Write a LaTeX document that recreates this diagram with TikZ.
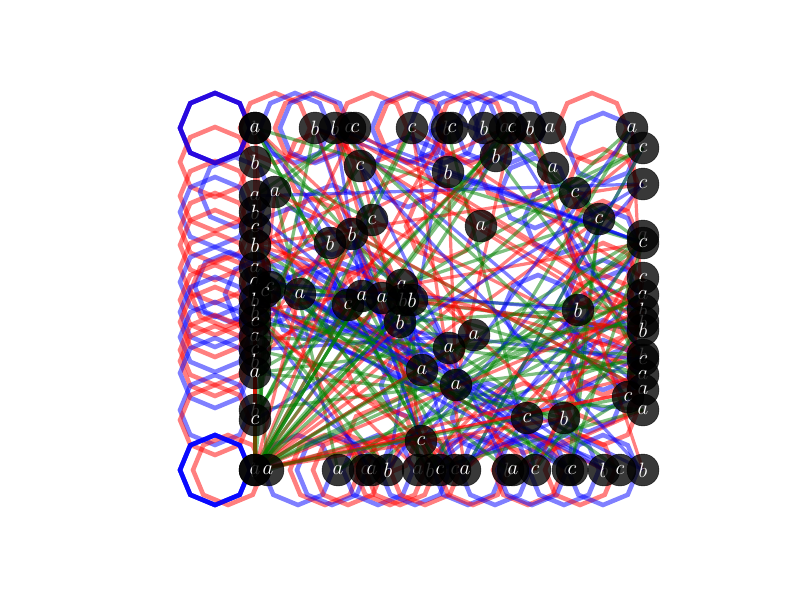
\documentclass[tikz,border=0pt]{standalone}
\usetikzlibrary{calc}
\begin{document}
\begin{tikzpicture}[x=1pt,y=-1pt,
  oct/.style={line width=4.5pt,opacity=0.5,line join=miter},
  edge/.style={line width=3.2pt,opacity=0.5},
  vtx/.style={circle,fill=black,draw=black,fill opacity=0.78,draw opacity=0.78,text opacity=1,text=white,minimum size=32pt,inner sep=0pt,font=\fontsize{21}{21}\selectfont}]
\useasboundingbox[fill=white] (0,0) rectangle (800,600);
\def\nodelist{1/255/128/b/blue,2/255/128/a/blue,3/315/128/b/red,4/335/128/b/blue,5/350/128/a/red,6/355/128/c/blue,7/412/128/c/red,8/447/128/b/blue,9/452/128/c/red,10/484/128/b/blue,11/505/128/a/blue,12/512/128/c/red,13/530/128/b/blue,14/550/128/a/blue,15/632/128/a/red,16/643/148/c/blue,17/255/162/b/red,18/360/166/c/red,19/448/172/b/blue,20/496/156/b/blue,21/553/168/a/red,22/575/193/c/blue,23/643/184/c/red,24/275/192/a/blue,25/255/196/a/red,26/255/212/b/blue,27/255/228/c/red,28/255/245/b/red,29/372/220/c/blue,30/352/234/b/red,31/330/243/b/blue,32/481/226/a/red,33/599/219/c/blue,34/643/236/a/red,35/643/243/c/blue,36/255/268/a/red,37/255/282/a/blue,38/270/287/c/blue,39/265/292/c/red,40/300/294/a/blue,41/255/300/b/red,42/255/312/b/blue,43/255/322/c/red,44/255/337/a/blue,45/255/350/c/red,46/255/361/b/red,47/255/373/a/blue,48/348/305/c/blue,49/362/296/a/red,50/382/298/a/blue,51/402/285/a/red,52/403/300/b/blue,53/412/300/b/red,54/400/322/b/blue,55/578/310/b/blue,56/643/278/c/red,57/643/295/a/blue,58/643/310/b/red,59/643/322/b/blue,60/643/330/b/red,61/474/335/a/red,62/449/348/a/blue,63/422/370/a/red,64/456/385/a/blue,65/643/355/b/blue,66/643/360/c/red,67/643/375/a/blue,68/643/390/a/red,69/628/397/c/blue,70/643/410/a/red,71/255/410/b/blue,72/255/420/c/red,73/527/418/c/blue,74/564/418/b/red,75/421/441/c/red,76/255/470/b/blue,77/255/470/a/blue,78/268/470/a/red,79/338/470/a/blue,80/365/470/c/red,81/372/470/a/blue,82/388/470/b/red,83/418/470/a/blue,84/430/470/b/red,85/440/470/c/red,86/455/470/c/blue,87/465/470/a/red,88/508/470/b/blue,89/513/470/a/red,90/535/470/c/blue,91/568/470/c/red,92/572/470/c/blue,93/604/470/b/blue,94/620/470/c/red,95/643/470/b/blue}
% positions
\foreach \i/\x/\y/\l/\c in \nodelist {\coordinate (n\i) at (\x,\y);}
% octagons
\foreach \i/\x/\y/\l/\c in \nodelist {
  \draw[oct,draw=\c] ($(n\i)+(-40,0)$) +(0:35) -- +(45:35) -- +(90:35) -- +(135:35) -- +(180:35) -- +(225:35) -- +(270:35) -- +(315:35) -- cycle;
}
\draw[oct,draw=blue!85!red,opacity=0.85] ($(n1)+(-40,0)$) +(0:35) -- +(45:35) -- +(90:35) -- +(135:35) -- +(180:35) -- +(225:35) -- +(270:35) -- +(315:35) -- cycle;
\draw[oct,draw=blue,opacity=0.85] ($(n76)+(-40,0)$) +(0:35) -- +(45:35) -- +(90:35) -- +(135:35) -- +(180:35) -- +(225:35) -- +(270:35) -- +(315:35) -- cycle;
% edges
\pgfmathsetseed{42}
\foreach \k in {1,...,190}{
  \pgfmathrandominteger{\ea}{1}{95}
  \pgfmathrandominteger{\eb}{1}{95}
  \pgfmathrandominteger{\ec}{1}{10}
  \pgfpointanchor{n\ea}{center}\pgfgetlastxy{\xa}{\ya}
  \pgfpointanchor{n\eb}{center}\pgfgetlastxy{\xb}{\yb}
  \pgfmathparse{(abs(\xa-\xb)<6 || abs(\ya-\yb)<6) ? 1 : 0}
  \ifnum\pgfmathresult=0
    \ifnum\ec<5 \def\ecol{green!50!black}\else\ifnum\ec<8 \def\ecol{red}\else\def\ecol{blue}\fi\fi
    \draw[edge,draw=\ecol] (n\ea) -- (n\eb);
  \fi
}
\foreach \k in {1,...,30}{
  \pgfmathrandominteger{\ea}{1}{75}
  \pgfmathrandominteger{\ec}{1}{10}
  \ifnum\ec<5 \def\ecol{green!50!black}\else\def\ecol{red}\fi
  \draw[edge,draw=\ecol] (n76) -- (n\ea);
}
% vertices
\foreach \i/\x/\y/\l/\c in \nodelist {\node[vtx] (v\i) at (n\i) {$\l$};}
\end{tikzpicture}
\end{document}
